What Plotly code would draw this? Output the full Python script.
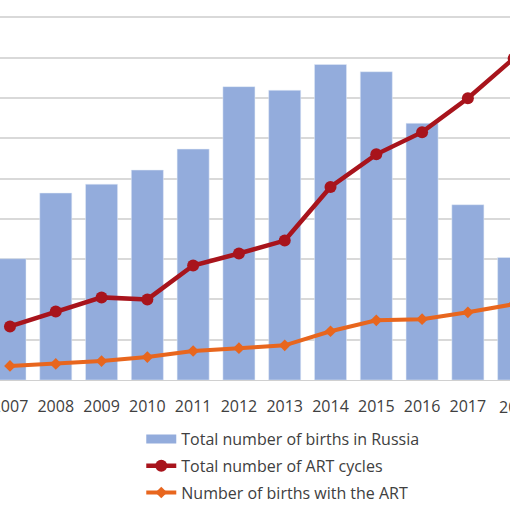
import plotly.graph_objects as go

years = ["2007", "2008", "2009", "2010", "2011", "2012",
         "2013", "2014", "2015", "2016", "2017", "2018"]

# values, in gridline units (no axis labels are visible)
births_russia = [3.01, 4.64, 4.86, 5.21, 5.73, 7.28, 7.19, 7.83, 7.65, 6.37, 4.35, 3.04]
art_cycles = [1.33, 1.70, 2.05, 2.00, 2.84, 3.14, 3.46, 4.79, 5.60, 6.15, 6.99, 7.98]
art_births = [0.35, 0.40, 0.47, 0.57, 0.72, 0.79, 0.86, 1.21, 1.48, 1.51, 1.68, 1.88]

bar_col = "#93acdc"
red_col = "#a8141c"
orange_col = "#e8661e"

fig = go.Figure()

fig.add_trace(go.Bar(x=years, y=births_russia, marker_color=bar_col,
                     showlegend=False, hoverinfo="y"))
# legend stand-in so the bar key is a wide strip, like the original
fig.add_trace(go.Scatter(x=[None], y=[None], mode="lines",
                         line=dict(color=bar_col, width=9),
                         name="Total number of births in Russia", legendgroup="a"))

fig.add_trace(go.Scatter(x=years, y=art_cycles, mode="lines+markers",
                         line=dict(color=red_col, width=4.5),
                         marker=dict(symbol="circle", size=12, color=red_col),
                         name="Total number of ART cycles", legendgroup="b"))

fig.add_trace(go.Scatter(x=years, y=art_births, mode="lines+markers",
                         line=dict(color=orange_col, width=4),
                         marker=dict(symbol="diamond", size=9, color=orange_col),
                         name="Number of births with the ART", legendgroup="c"))

# the last year label sits half outside the picture in the original
fig.add_annotation(x=0.9745, xref="paper", xanchor="left", y=0, yref="paper",
                   yanchor="top", yshift=-14, text=years[-1], showarrow=False,
                   font=dict(size=16, color="#404040"))

fig.update_layout(
    width=510, height=510,
    margin=dict(l=0, r=0, t=0, b=123),
    paper_bgcolor="white", plot_bgcolor="white",
    bargap=0.3,
    font=dict(family="Open Sans", size=16, color="#404040"),
    xaxis=dict(range=[-0.218, 10.92], showgrid=False, showline=True,
               linecolor="#d0d0d0", linewidth=1, ticks="", automargin=False,
               ticklabelstandoff=12,
               tickfont=dict(size=16, color="#404040")),
    yaxis=dict(range=[0, 9.43], dtick=1, showgrid=True, gridcolor="#d9d9d9",
               gridwidth=1.5, showticklabels=False, zeroline=False,
               automargin=False),
    legend=dict(orientation="v", x=0.277, xanchor="left", y=-0.111, yanchor="top",
                tracegroupgap=3, itemwidth=30,
                font=dict(size=16, color="#404040")),
)

# drop the browser's default page margin so the chart fills the window
fig.write_html("out.html", config={"displayModeBar": False},
               post_script="document.body.style.margin='0';")
